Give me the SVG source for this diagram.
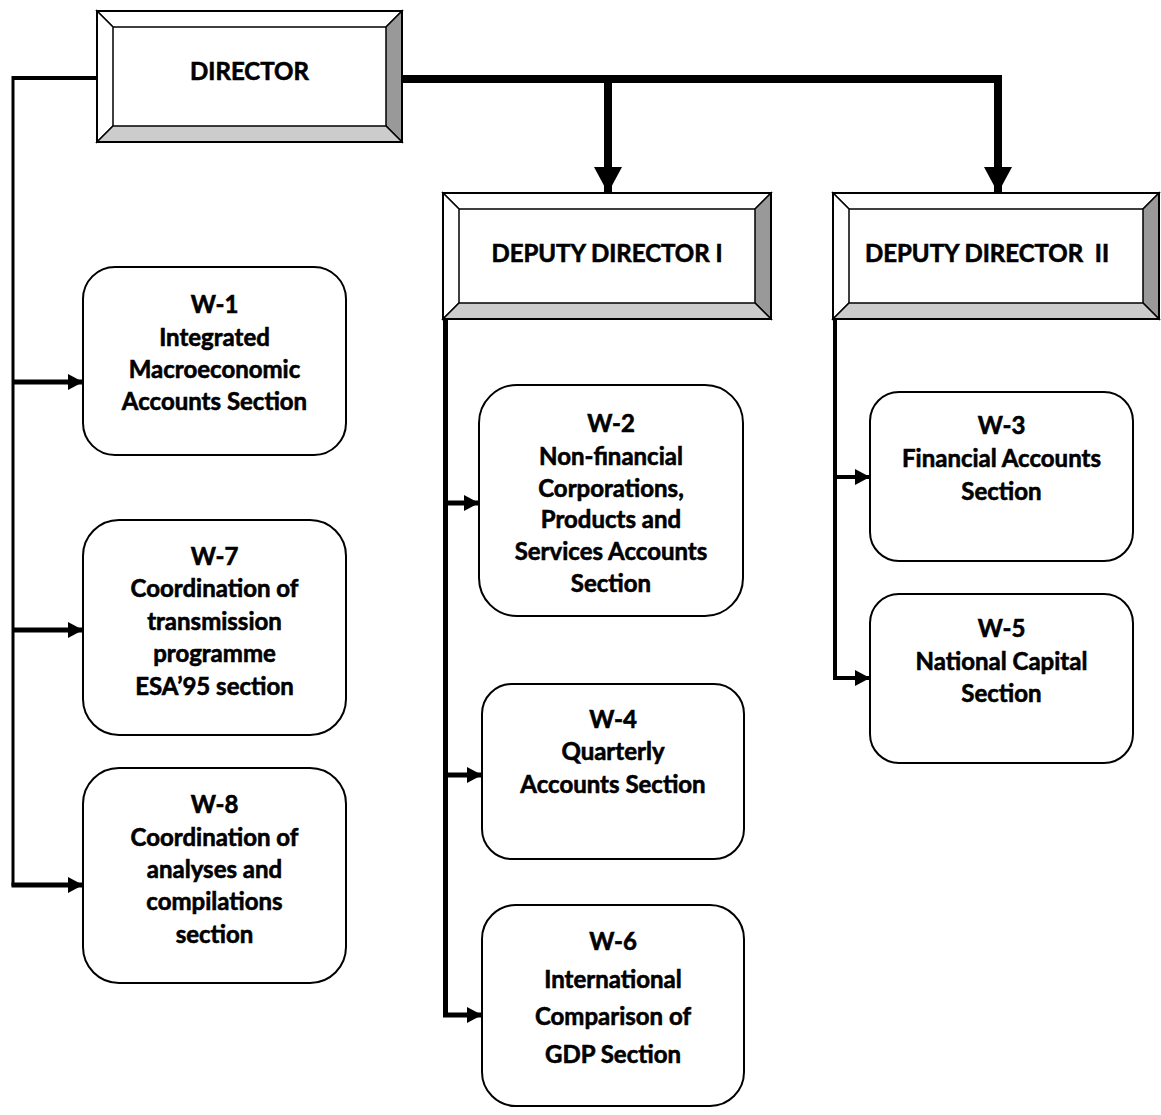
<svg xmlns="http://www.w3.org/2000/svg" width="1161" height="1115" viewBox="0 0 1161 1115">
<style>
  .t { font-family: Lato, "Liberation Sans", sans-serif; font-weight: bold; font-size: 24px; fill: #000; stroke: #000; stroke-width: 0.6px; text-anchor: middle; }
  .box { fill: #fff; stroke: #000; stroke-width: 2; }
  .bev { stroke: #000; stroke-width: 1.5; stroke-linejoin: miter; }
  .lt { fill: #fff; }
  .rt { fill: #999; }
  .bt { fill: #ccc; }
  .ln { fill: none; stroke: #000; stroke-linejoin: miter; stroke-linecap: butt; }
</style>
<defs>
  <marker id="sa" markerUnits="userSpaceOnUse" markerWidth="15" markerHeight="16" refX="15" refY="8" orient="auto">
    <path d="M0,0 L15,8 L0,16 z" fill="#000"/>
  </marker>
  <marker id="ba" markerUnits="userSpaceOnUse" markerWidth="26" markerHeight="28" refX="26" refY="14" orient="auto">
    <path d="M0,0 L26,14 L0,28 z" fill="#000"/>
  </marker>
</defs>
<rect width="1161" height="1115" fill="#fff"/>

<g id="connectors">
  <path class="ln" d="M97,78 H13" stroke-width="4"/>
  <path class="ln" d="M13,76 V886" stroke-width="3"/>
  <path class="ln" d="M13,382 H83" stroke-width="5" marker-end="url(#sa)"/>
  <path class="ln" d="M13,630 H83" stroke-width="5" marker-end="url(#sa)"/>
  <path class="ln" d="M11.5,885 H83" stroke-width="5" marker-end="url(#sa)"/>
  <path class="ln" d="M402,79 H998 V193" stroke-width="8" marker-end="url(#ba)"/>
  <path class="ln" d="M608,79 V193" stroke-width="8" marker-end="url(#ba)"/>
  <path class="ln" d="M445.5,319 V1015 H482" stroke-width="5" marker-end="url(#sa)"/>
  <path class="ln" d="M445.5,503 H479" stroke-width="5" marker-end="url(#sa)"/>
  <path class="ln" d="M445.5,775 H482" stroke-width="5" marker-end="url(#sa)"/>
  <path class="ln" d="M835,319 V678 H870" stroke-width="4" marker-end="url(#sa)"/>
  <path class="ln" d="M835,477 H870" stroke-width="4" marker-end="url(#sa)"/>
</g>

<g id="director">
  <rect class="box" x="97" y="11" width="305" height="131"/>
  <polygon class="bev lt" points="97,11 402,11 386,27 113,27"/>
  <polygon class="bev lt" points="97,11 113,27 113,126 97,142"/>
  <polygon class="bev rt" points="402,11 402,142 386,126 386,27"/>
  <polygon class="bev bt" points="97,142 113,126 386,126 402,142"/>
  <rect x="97" y="11" width="305" height="131" fill="none" stroke="#000" stroke-width="2"/>
  <text class="t" x="249.5" y="80">DIRECTOR</text>
</g>

<g id="deputy1">
  <rect class="box" x="443" y="193" width="328" height="126"/>
  <polygon class="bev lt" points="443,193 771,193 755,209 459,209"/>
  <polygon class="bev lt" points="443,193 459,209 459,303 443,319"/>
  <polygon class="bev rt" points="771,193 771,319 755,303 755,209"/>
  <polygon class="bev bt" points="443,319 459,303 755,303 771,319"/>
  <rect x="443" y="193" width="328" height="126" fill="none" stroke="#000" stroke-width="2"/>
  <text class="t" x="607" y="262">DEPUTY DIRECTOR I</text>
</g>

<g id="deputy2">
  <rect class="box" x="833" y="193" width="326" height="126"/>
  <polygon class="bev lt" points="833,193 1159,193 1143,209 849,209"/>
  <polygon class="bev lt" points="833,193 849,209 849,303 833,319"/>
  <polygon class="bev rt" points="1159,193 1159,319 1143,303 1143,209"/>
  <polygon class="bev bt" points="833,319 849,303 1143,303 1159,319"/>
  <rect x="833" y="193" width="326" height="126" fill="none" stroke="#000" stroke-width="2"/>
  <text class="t" x="987" y="262" xml:space="preserve">DEPUTY DIRECTOR  II</text>
</g>

<g id="w1">
  <rect class="box" x="83" y="267" width="263" height="188" rx="32"/>
  <text class="t" x="214.5" y="313">W-1</text>
  <text class="t" x="214.5" y="346">Integrated</text>
  <text class="t" x="214.5" y="378">Macroeconomic</text>
  <text class="t" x="214.5" y="410">Accounts Section</text>
</g>

<g id="w7">
  <rect class="box" x="83" y="520" width="263" height="215" rx="36"/>
  <text class="t" x="214.5" y="565">W-7</text>
  <text class="t" x="214.5" y="597">Coordination of</text>
  <text class="t" x="214.5" y="630">transmission</text>
  <text class="t" x="214.5" y="662">programme</text>
  <text class="t" x="214.5" y="695">ESA’95 section</text>
</g>

<g id="w8">
  <rect class="box" x="83" y="768" width="263" height="215" rx="36"/>
  <text class="t" x="214.5" y="813">W-8</text>
  <text class="t" x="214.5" y="846">Coordination of</text>
  <text class="t" x="214.5" y="878">analyses and</text>
  <text class="t" x="214.5" y="910">compilations</text>
  <text class="t" x="214.5" y="943">section</text>
</g>

<g id="w2">
  <rect class="box" x="479" y="385" width="264" height="231" rx="38"/>
  <text class="t" x="611" y="432">W-2</text>
  <text class="t" x="611" y="465">Non-financial</text>
  <text class="t" x="611" y="497">Corporations,</text>
  <text class="t" x="611" y="528">Products and</text>
  <text class="t" x="611" y="560">Services Accounts</text>
  <text class="t" x="611" y="592">Section</text>
</g>

<g id="w4">
  <rect class="box" x="482" y="684" width="262" height="175" rx="30"/>
  <text class="t" x="613" y="728">W-4</text>
  <text class="t" x="613" y="760">Quarterly</text>
  <text class="t" x="613" y="793">Accounts Section</text>
</g>

<g id="w6">
  <rect class="box" x="482" y="905" width="262" height="201" rx="34"/>
  <text class="t" x="613" y="950">W-6</text>
  <text class="t" x="613" y="988">International</text>
  <text class="t" x="613" y="1025">Comparison of</text>
  <text class="t" x="613" y="1063">GDP Section</text>
</g>

<g id="w3">
  <rect class="box" x="870" y="392" width="263" height="169" rx="29"/>
  <text class="t" x="1001.5" y="434">W-3</text>
  <text class="t" x="1001.5" y="467">Financial Accounts</text>
  <text class="t" x="1001.5" y="500">Section</text>
</g>

<g id="w5">
  <rect class="box" x="870" y="594" width="263" height="169" rx="29"/>
  <text class="t" x="1001.5" y="637">W-5</text>
  <text class="t" x="1001.5" y="670">National Capital</text>
  <text class="t" x="1001.5" y="702">Section</text>
</g>
</svg>
